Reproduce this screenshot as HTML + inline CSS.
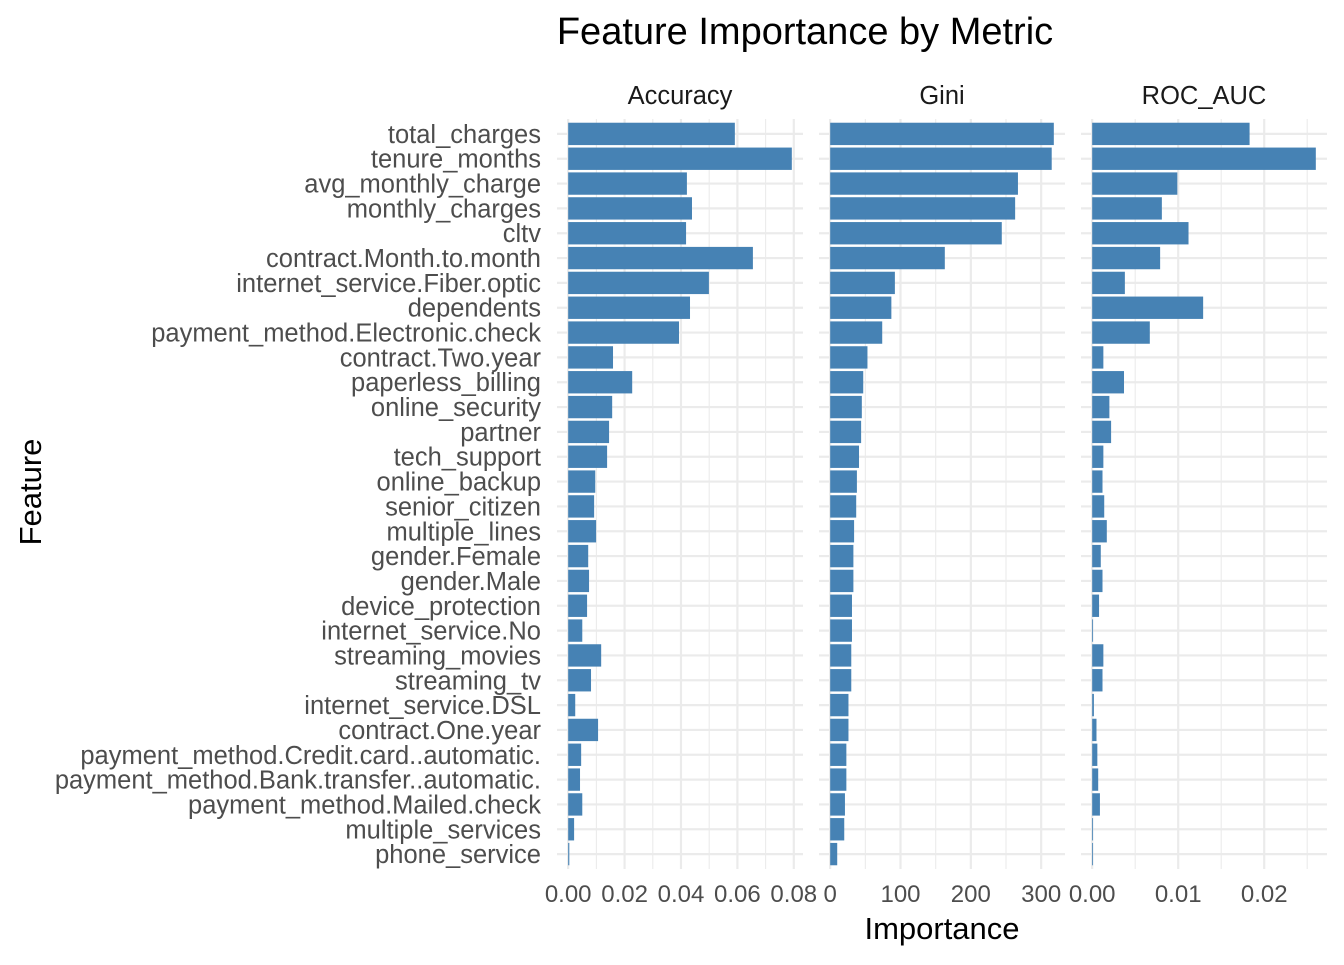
<!DOCTYPE html>
<html><head><meta charset="utf-8"><style>
body{margin:0;background:#fff}
svg text{font-family:"Liberation Sans",Arial,sans-serif}
</style></head><body>
<svg id="chart" width="1344" height="960" xmlns="http://www.w3.org/2000/svg">
<text x="805" y="44" font-size="38" text-anchor="middle" fill="#000">Feature Importance by Metric</text>
<text x="942" y="939" font-size="31" text-anchor="middle" fill="#000">Importance</text>
<text transform="translate(41,492) rotate(-90)" font-size="31" text-anchor="middle" fill="#000">Feature</text>
<g id="plot"></g>
</svg>
<script>
const features=["total_charges","tenure_months","avg_monthly_charge","monthly_charges","cltv","contract.Month.to.month","internet_service.Fiber.optic","dependents","payment_method.Electronic.check","contract.Two.year","paperless_billing","online_security","partner","tech_support","online_backup","senior_citizen","multiple_lines","gender.Female","gender.Male","device_protection","internet_service.No","streaming_movies","streaming_tv","internet_service.DSL","contract.One.year","payment_method.Credit.card..automatic.","payment_method.Bank.transfer..automatic.","payment_method.Mailed.check","multiple_services","phone_service"];
const accuracy=[0.0591,0.0793,0.0421,0.0439,0.0418,0.0655,0.0499,0.0432,0.0393,0.0159,0.0227,0.0156,0.0145,0.0138,0.0096,0.0092,0.0099,0.0071,0.0074,0.0067,0.005,0.0117,0.0081,0.0025,0.0106,0.0046,0.0042,0.005,0.0021,0.0004];
const gini=[318,315,267,263,244,163,92,87,74,53,47,45,44,41,38,37,34,33,33,31,31,30,30,26,26,23,23,21,20,10];
const rocAuc=[0.0183,0.026,0.0099,0.0081,0.0112,0.0079,0.0038,0.0129,0.0067,0.0013,0.0037,0.002,0.0022,0.0013,0.0012,0.0014,0.0017,0.001,0.0012,0.0008,0.0001,0.0013,0.0012,0.0002,0.0005,0.0006,0.0007,0.0009,0.0001,0.0001];
const accTicks=[0,0.02,0.04,0.06,0.08],accLabels=["0.00","0.02","0.04","0.06","0.08"];
const giniTicks=[0,100,200,300],giniLabels=["0","100","200","300"];
const rocTicks=[0,0.01,0.02],rocLabels=["0.00","0.01","0.02"];
const NS="http://www.w3.org/2000/svg";
const plotG=document.getElementById('plot');
function mk(t,a){const e=document.createElementNS(NS,t);for(const k in a)e.setAttribute(k,a[k]);plotG.appendChild(e);return e;}
const yTop=119,yBottom=869;
const nRows=features.length;
function yPos(i){return yTop+(yBottom-yTop)*(i+0.6)/(nRows+0.2);}
const panels=[
 {name:"Accuracy",vals:accuracy,ticks:accTicks,labels:accLabels,x0:557,x1:803},
 {name:"Gini",vals:gini,ticks:giniTicks,labels:giniLabels,x0:819,x1:1065},
 {name:"ROC_AUC",vals:rocAuc,ticks:rocTicks,labels:rocLabels,x0:1081,x1:1327}];
panels.forEach(p=>{
 const max=Math.max(...p.vals);
 const lo=-max*0.05,hi=max*1.05;
 const xs=v=>p.x0+(v-lo)/(hi-lo)*(p.x1-p.x0);
 const step=p.ticks[1]-p.ticks[0];
 for(let k=-1;k<40;k++){const v=k*step/2;const x=xs(v);if(x<p.x0||x>p.x1)continue;
  const major=(k%2===0);
  const l=mk('line',{x1:x,x2:x,y1:yTop,y2:yBottom,stroke:'#ebebeb','stroke-width':major?2.2:1.1});
  
  }
 for(let i=0;i<nRows;i++){const l=mk('line',{x1:p.x0,x2:p.x1,y1:yPos(i),y2:yPos(i),stroke:'#ebebeb','stroke-width':2.2});
  
  }
 const bh=(yBottom-yTop)/(nRows+0.2)*0.9;
 p.vals.forEach((v,i)=>{const r=mk('rect',{x:xs(0),y:yPos(i)-bh/2,width:Math.max(0.5,xs(v)-xs(0)),height:bh,fill:'#4682b4'});
  
  });
 p.ticks.forEach((t,i)=>{const tx=mk('text',{x:xs(t),y:902,'font-size':24,'text-anchor':'middle',fill:'#4d4d4d'});tx.textContent=p.labels[i];
  
  });
 const s=mk('text',{x:(p.x0+p.x1)/2,y:104,'font-size':25.5,'text-anchor':'middle',fill:'#1a1a1a'});s.textContent=p.name;
 
 
});
features.forEach((f,i)=>{const t=mk('text',{x:541,y:yPos(i)+9,'font-size':25.5,'text-anchor':'end',fill:'#4d4d4d'});t.textContent=f;
 
 });
</script>
</body></html>
